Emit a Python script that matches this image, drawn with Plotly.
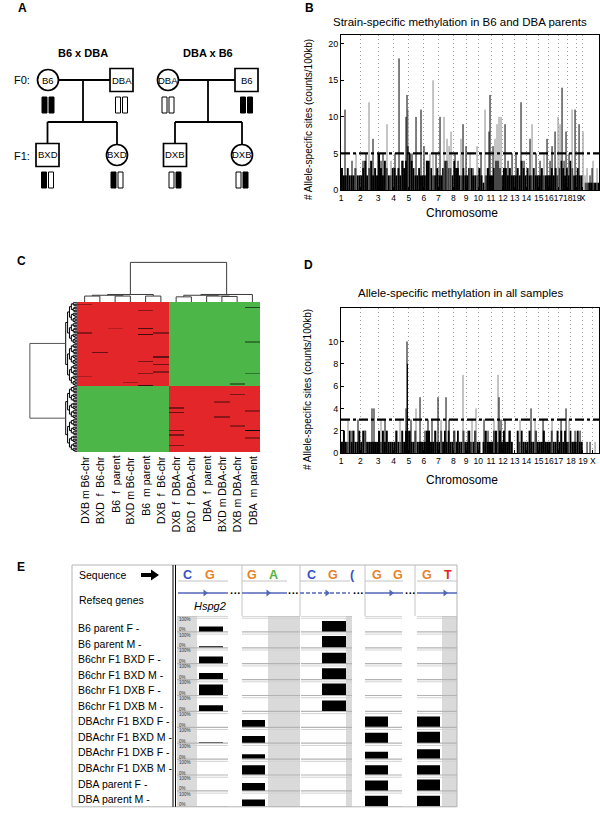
import plotly.graph_objects as go

W, H = 600, 813
FONT = "Liberation Sans, Arial, Helvetica, sans-serif"

# ====================== DATA ======================
chrom_names = ["1", "2", "3", "4", "5", "6", "7", "8", "9", "10",
               "11", "12", "13", "14", "15", "16", "17", "18", "19", "X"]
chrom_len_mb = [197.2, 181.7, 159.6, 155.6, 152.5, 149.5, 152.5, 131.7, 124.1, 130.0,
                121.8, 121.3, 120.3, 125.2, 103.5, 98.3, 95.3, 90.8, 61.3, 166.7]

# Panel B: dense background level of allele-specific sites per chromosome segment
b_fill = [
    [3, 2, 2, 3, 2, 2, 2, 3, 2, 2],
    [2, 3, 4, 2, 3, 4, 2, 3, 2],
    [5, 3, 2, 4, 3, 2, 2, 3],
    [3, 2, 3, 2, 4, 3, 4, 6],
    [5, 4, 3, 2, 2, 3, 2, 2],
    [2, 4, 4, 3, 2, 2, 3],
    [2, 2, 3, 4, 4, 3, 3, 2],
    [4, 3, 3, 2, 2, 3, 2],
    [2, 3, 3, 2, 2, 2],
    [3, 2, 1, 2, 3, 2],
    [2, 3, 4, 4, 3, 2],
    [3, 3, 2, 3, 2, 2],
    [2, 3, 2, 4, 3, 2],
    [3, 2, 2, 3, 2, 2],
    [2, 3, 2, 2, 2],
    [2, 3, 2, 3, 2],
    [3, 4, 3, 2, 3],
    [2, 4, 3, 2, 2],
    [3, 2, 2],
    [0, 1, 1, 1, 1, 1, 1, 1],
]
# Panel B: individual peaks (genome position in Mb, counts, tone k=black g=grey)
b_spike_mb = [40.9, 112.5, 153.5, 225.1, 255.8, 286.4, 327.4, 378.5, 409.2, 429.7,
              470.6, 511.5, 552.4, 593.4, 634.3, 665.0, 675.2, 685.4, 726.3, 767.3,
              818.4, 849.1, 879.8, 910.5, 941.2, 971.9, 1012.8, 1053.7, 1084.4, 1104.9,
              1125.3, 1166.2, 1196.9, 1227.6, 1248.1, 1278.8, 1319.7, 1350.4, 1391.3, 1432.2,
              1473.1, 1514.1, 1524.3, 1555.0, 1575.4, 1595.9, 1616.4, 1636.8, 1677.7, 1708.4,
              1749.4, 1790.3, 1841.4, 1872.1, 1933.5, 1954.0, 1994.9, 2035.8, 2076.7, 2107.4,
              2138.1, 2158.6, 2189.3, 2220.0, 2240.4, 2260.9, 2281.3, 2301.8, 2332.5, 2363.2,
              2393.9, 2434.8, 2475.7, 2496.2, 2516.6, 2547.3, 2567.8, 2578.0, 2618.9]
b_spike_h = [11, 4, 5, 4, 5, 12, 7, 5, 4, 5,
             9, 4, 5, 18, 4, 10, 13, 11, 5, 10,
             11, 6, 4, 5, 15, 5, 10, 10, 7, 6,
             8, 5, 4, 7, 9, 6, 5, 3, 6, 5,
             11, 8, 13, 6, 7, 9, 10, 10, 9, 4,
             5, 5, 12, 4, 7, 9, 5, 4, 5, 7,
             4, 6, 8, 10, 9, 14, 4, 8, 5, 11,
             11, 9, 8, 2, 3, 2, 3, 4, 3]
b_spike_tone = ["k", "k", "g", "k", "k", "g", "k", "k", "k", "k",
                "g", "g", "k", "k", "k", "k", "k", "g", "k", "k",
                "k", "k", "k", "g", "g", "k", "k", "g", "g", "g",
                "g", "k", "k", "g", "k", "k", "g", "k", "g", "k",
                "g", "k", "k", "k", "g", "g", "g", "g", "k", "k",
                "k", "k", "k", "k", "k", "g", "k", "k", "g", "k",
                "k", "k", "k", "g", "g", "k", "k", "k", "k", "g",
                "k", "k", "g", "g", "g", "k", "k", "g", "g"]
b_threshold = 5
b_yticks = [0, 5, 10, 15, 20]

# Panel D
d_fill = [
    [1, 2, 1, 1, 2, 1, 2, 1, 1, 2],
    [1, 2, 2, 1, 1, 1, 1, 1, 1],
    [2, 1, 2, 1, 2, 1, 1, 1],
    [1, 2, 1, 1, 2, 1, 2, 2],
    [2, 1, 1, 2, 1, 1, 1, 1],
    [1, 2, 2, 1, 1, 2, 1],
    [1, 2, 1, 2, 1, 2, 1, 1],
    [2, 1, 2, 1, 1, 2, 1],
    [1, 2, 1, 1, 2, 1],
    [1, 0, 1, 2, 1, 1],
    [1, 2, 2, 1, 2, 1],
    [2, 1, 1, 2, 1, 0],
    [0, 2, 1, 2, 1, 1],
    [1, 2, 1, 1, 2, 1],
    [1, 1, 2, 1, 1],
    [1, 2, 1, 1, 2],
    [1, 2, 1, 2, 1],
    [1, 2, 1, 1, 1],
    [2, 1, 1],
    [0, 0, 0, 0, 0, 0, 0, 0],
]
d_spike_mb = [30.7, 71.6, 112.5, 173.9, 245.5, 317.1, 337.6, 409.2, 450.1, 562.7,
              603.6, 665.0, 675.2, 680.0, 716.1, 767.3, 808.2, 859.3, 890.0, 930.9,
              992.3, 1023.0, 1074.2, 1104.9, 1166.2, 1248.1, 1299.2, 1340.2, 1381.1, 1462.9,
              1503.8, 1565.2, 1606.1, 1616.4, 1636.8, 1677.7, 1718.7, 1831.2, 1943.7, 1984.7,
              2066.5, 2158.6, 2250.6, 2301.8, 2332.5, 2393.9, 2445.0, 2516.6, 2547.3, 2598.5]
d_spike_h = [2, 3, 2, 3, 2, 4, 4, 3, 3, 2,
             3, 4, 10, 8, 3, 4, 5, 2, 3, 3,
             5, 3, 5, 3, 2, 7, 2, 3, 4, 3,
             2, 3, 7, 5, 3, 3, 2, 3, 4, 3,
             3, 3, 3, 4, 3, 2, 2, 1, 1, 1]
d_spike_tone = ["k", "g", "k", "k", "g", "k", "k", "g", "k", "k",
                "g", "k", "k", "k", "k", "g", "k", "k", "k", "k",
                "k", "g", "k", "k", "g", "g", "k", "g", "g", "k",
                "k", "g", "g", "k", "k", "k", "k", "g", "k", "g",
                "k", "g", "k", "k", "g", "k", "k", "k", "k", "g"]
d_tick_mb = [0, 197.2, 378.9, 538.5, 694.1, 846.6, 996.1, 1148.6, 1280.3, 1404.4,
             1534.4, 1656.2, 1777.5, 1897.8, 2023.0, 2126.5, 2224.8, 2352.0, 2475.0, 2577.0]
d_threshold = 3
d_yticks = [0, 2, 4, 6, 8, 10]

# Panel C heatmap
heat_cols = ["DXB m B6-chr", "BXD\u00a0\u00a0f\u00a0\u00a0B6-chr", "B6\u00a0\u00a0f\u00a0\u00a0parent",
             "BXD m B6-chr", "B6\u00a0\u00a0m parent", "DXB\u00a0\u00a0f\u00a0\u00a0B6-chr",
             "DXB\u00a0\u00a0f\u00a0\u00a0DBA-chr", "BXD\u00a0\u00a0f\u00a0\u00a0DBA-chr",
             "DBA\u00a0\u00a0f\u00a0\u00a0parent", "BXD m DBA-chr", "DXB m DBA-chr",
             "DBA\u00a0\u00a0m parent"]
heat_group_rows = [56, 44]
heat_group_pattern = [[1, 1, 1, 1, 1, 1, -1, -1, -1, -1, -1, -1],
                      [-1, -1, -1, -1, -1, -1, 1, 1, 1, 1, 1, 1]]
heat_exceptions = [(1, 0, 0.65), (5, 4, 0.6), (17, 4, 0.35), (17, 2, 0.8), (20, 0, 0.6),
                   (20, 5, 0.6), (21, 4, 0.3), (33, 1, 0.45), (36, 5, 0.45), (39, 4, 0.55),
                   (41, 5, 0.5), (46, 5, 0.6), (47, 4, 0.6), (49, 0, 0.75), (53, 3, 0.7),
                   (55, 4, 0.3), (3, 11, -0.4), (26, 11, -0.65), (47, 11, -0.65), (54, 10, -0.6),
                   (61, 10, 0.55), (66, 9, 0.65), (70, 6, 0.55), (72, 11, 0.65), (73, 6, 0.45),
                   (76, 9, 0.6), (82, 10, 0.65), (85, 11, -0.05), (85, 6, 0.5), (88, 6, 0.55),
                   (90, 11, 0.65), (95, 6, 0.55)]
# column dendrogram merges (left, right, height); nodes numbered from 12
col_merges = [(0, 1, 0.15), (2, 3, 0.15), (12, 13, 0.17), (4, 5, 0.15), (14, 15, 0.19),
              (6, 7, 0.13), (9, 10, 0.14), (8, 18, 0.15), (17, 19, 0.17), (20, 11, 0.19),
              (16, 21, 1.0)]
row_tree_heights = [0.24, 0.2, 0.16, 0.12, 0.08, 0.05, 0.025]
row_root_height = 1.0

# Panel E
e_rows = ["B6 parent F -", "B6 parent M -", "B6chr F1 BXD F -", "B6chr F1 BXD M -",
          "B6chr F1 DXB F -", "B6chr F1 DXB M -", "DBAchr F1 BXD F -", "DBAchr F1 BXD M -",
          "DBAchr F1 DXB F -", "DBAchr F1 DXB M -", "DBA parent F -", "DBA parent M -"]
e_meth_b1 = [40, 8, 54, 49, 86, 46, 0, 3, 0, 0, 0, 0]
e_meth_b2 = [0, 0, 0, 0, 0, 0, 55, 55, 35, 75, 60, 55]
e_meth_b3 = [86, 92, 86, 89, 95, 86, 0, 0, 0, 0, 0, 0]
e_meth_b4 = [0, 0, 0, 0, 0, 0, 84, 81, 57, 76, 81, 86]
e_meth_b5 = [0, 0, 0, 0, 0, 0, 84, 89, 76, 76, 89, 86]
e_seq = [["C", "G"], ["G", "A"], ["C", "G", "("], ["G", "G"], ["G", "T"]]
e_gene = "Hspg2"

# ====================== HELPERS ======================
def PX(px): return px / W
def PY(py): return 1 - py / H
def dom_x(a, b): return [a / W, b / W]
def dom_y(top, bottom): return [1 - bottom / H, 1 - top / H]

chrom_start = []
acc = 0.0
for L in chrom_len_mb:
    chrom_start.append(acc)
    acc += L
genome_len = acc

shapes, annots = [], []

def line(x0, y0, x1, y1, color="black", width=1.5, dash=None):
    ln = dict(color=color, width=width)
    if dash:
        ln["dash"] = dash
    shapes.append(dict(type="line", xref="paper", yref="paper",
                       x0=PX(x0), y0=PY(y0), x1=PX(x1), y1=PY(y1), line=ln, layer="above"))

def rect(x0, y0, x1, y1, fill="white", lc="black", lw=1.5):
    shapes.append(dict(type="rect", xref="paper", yref="paper",
                       x0=PX(x0), x1=PX(x1), y0=PY(y1), y1=PY(y0),
                       fillcolor=fill, line=dict(color=lc, width=lw), layer="above"))

def circle(cx, cy, r, fill="white", lc="black", lw=1.5):
    shapes.append(dict(type="circle", xref="paper", yref="paper",
                       x0=PX(cx - r), x1=PX(cx + r), y0=PY(cy + r), y1=PY(cy - r),
                       fillcolor=fill, line=dict(color=lc, width=lw), layer="above"))

def path(pts, fill):
    d = "M " + " L ".join(f"{PX(x):.5f},{PY(y):.5f}" for x, y in pts) + " Z"
    shapes.append(dict(type="path", xref="paper", yref="paper", path=d,
                       fillcolor=fill, line=dict(width=0), layer="above"))

def text(x, y, s, size=10, color="black", bold=False, italic=False,
         xanchor="center", yanchor="middle", angle=0):
    if bold:
        s = f"<b>{s}</b>"
    if italic:
        s = f"<i>{s}</i>"
    annots.append(dict(xref="paper", yref="paper", x=PX(x), y=PY(y), text=s,
                       showarrow=False, xanchor=xanchor, yanchor=yanchor, borderpad=0,
                       textangle=angle, font=dict(size=size, color=color, family=FONT)))

fig = go.Figure()

# ====================== PANELS B & D ======================
def add_manhattan(fill, spike_mb, spike_h, spike_tone, threshold, xa, ya):
    xs, ws, ys = [], [], []
    for start, L, levels in zip(chrom_start, chrom_len_mb, fill):
        w = L / len(levels)
        for i, v in enumerate(levels):
            xs.append(start + (i + 0.5) * w)
            ws.append(w)
            ys.append(v)
    fig.add_trace(go.Bar(x=xs, y=ys, width=ws, marker=dict(color="black", line=dict(width=0)),
                         xaxis=xa, yaxis=ya, hoverinfo="skip"))
    for tone, color in (("g", "#8a8a8a"), ("k", "black")):
        sx, sy = [], []
        for p, v, t in zip(spike_mb, spike_h, spike_tone):
            if t == tone:
                sx += [p, p, None]
                sy += [0, v, None]
        fig.add_trace(go.Scatter(x=sx, y=sy, mode="lines", line=dict(color=color, width=1),
                                 xaxis=xa, yaxis=ya, hoverinfo="skip"))
    fig.add_trace(go.Scatter(x=[0, genome_len], y=[threshold, threshold], mode="lines",
                             line=dict(color="black", width=2.3, dash="9px,3px,3px,3px"),
                             xaxis=xa, yaxis=ya, hoverinfo="skip"))

add_manhattan(b_fill, b_spike_mb, b_spike_h, b_spike_tone, b_threshold, "x", "y")
add_manhattan(d_fill, d_spike_mb, d_spike_h, d_spike_tone, d_threshold, "x2", "y2")

def chrom_axis(domain, tickvals, anchor):
    return dict(domain=domain, anchor=anchor, range=[0, genome_len], tickmode="array",
                tickvals=tickvals, ticktext=chrom_names, tickangle=0,
                showgrid=True, gridcolor="#a0a0a0", griddash="1px,3px", gridwidth=1,
                showline=True, linecolor="black", linewidth=1, mirror=True,
                ticks="inside", ticklen=3, tickcolor="black",
                tickfont=dict(size=8.5, family=FONT, color="black"), zeroline=False,
                fixedrange=True, automargin=False)

def count_axis(domain, top, tickvals, anchor):
    return dict(domain=domain, anchor=anchor, range=[0, top], tickmode="array", tickvals=tickvals,
                showgrid=False, showline=True, linecolor="black", linewidth=1, mirror=True,
                ticks="inside", ticklen=3, tickcolor="black",
                tickfont=dict(size=9, family=FONT, color="black"), zeroline=False,
                fixedrange=True, automargin=False)

# ====================== PANEL C ======================
z = []
for g, n in enumerate(heat_group_rows):
    for _ in range(n):
        z.append(list(heat_group_pattern[g]))
for r, c, v in heat_exceptions:
    z[r][c] = v
nrows = len(z)
fig.add_trace(go.Heatmap(z=z, x=list(range(12)), y=list(range(nrows)), zmin=-1, zmax=1,
                         colorscale=[[0, "#4cb649"], [0.5, "#000000"], [1, "#e2262a"]],
                         showscale=False, xaxis="x3", yaxis="y3", hoverinfo="skip"))

# column dendrogram
node_pos = {i: (float(i), 0.0) for i in range(12)}
cx, cy = [], []
nid = 12
for a, b, h in col_merges:
    xa_, ha = node_pos[a]
    xb_, hb = node_pos[b]
    cx += [xa_, xa_, xb_, xb_, None]
    cy += [ha, h, h, hb, None]
    node_pos[nid] = ((xa_ + xb_) / 2, h)
    nid += 1
fig.add_trace(go.Scatter(x=cx, y=cy, mode="lines", line=dict(color="#3a3a3a", width=1),
                         xaxis="x4", yaxis="y4", hoverinfo="skip"))

# row dendrogram
rx, ry = [], []
def build(lo, hi, depth):
    if hi - lo == 1:
        return (float(lo), 0.0)
    mid = (lo + hi) // 2
    pa = build(lo, mid, depth + 1)
    pb = build(mid, hi, depth + 1)
    h = row_tree_heights[min(depth, len(row_tree_heights) - 1)]
    rx.extend([pa[1], h, h, pb[1], None])
    ry.extend([pa[0], pa[0], pb[0], pb[0], None])
    return ((pa[0] + pb[0]) / 2, h)
tops = []
start = 0
for n in heat_group_rows:
    tops.append(build(start, start + n, 0))
    start += n
fig.add_trace(go.Scatter(x=rx, y=ry, mode="lines", line=dict(color="black", width=1),
                         xaxis="x5", yaxis="y5", hoverinfo="skip"))
fig.add_trace(go.Scatter(x=[tops[0][1], row_root_height, row_root_height, tops[1][1]],
                         y=[tops[0][0], tops[0][0], tops[1][0], tops[1][0]], mode="lines",
                         line=dict(color="#555555", width=1), xaxis="x5", yaxis="y5",
                         hoverinfo="skip"))

for i, lab in enumerate(heat_cols):
    annots.append(dict(xref="x3", yref="paper", x=i, y=PY(455), text=lab, showarrow=False,
                       textangle=-90, xanchor="center", yanchor="top", borderpad=0,
                       font=dict(size=10.5, family=FONT, color="black")))

# ====================== PANEL E ======================
E_TOP, E_BOTTOM, E_LEFT, E_RIGHT = 565, 806.8, 72, 457
E_TRACK_TOP = 616
block_span = [(177, 228), (242, 300), (301, 352), (365, 402), (417, 457)]
bar_span = [(199, 223), (242, 265), (322, 346), (365, 388), (417, 440)]
gray_span = [(177, 197), (268, 300), (346, 352), None, (442, 457)]
header_sep = [242, 300, 365, 415]
seq_x = [[187, 210], [252, 273], [311, 333, 352], [377, 398], [427, 448]]
gene_seg = [(178, 228), (242, 287), (300, 350), (365, 403), (417, 457)]
gene_dash = [False, False, True, False, False]
dots_x = [235, 293, 358, 410]
arrow_x = [207, 270, 329, 393, 447]
base_color = {"C": "#3553c4", "G": "#e5822b", "A": "#55b43c", "T": "#e12424", "(": "#3553c4"}
GENE_BLUE = "#5466b8"

e_blocks = [e_meth_b1, e_meth_b2, e_meth_b3, e_meth_b4, e_meth_b5]
ex, ey, ebase, ew = [], [], [], []
for (b0, b1), vals in zip(bar_span, e_blocks):
    for k, v in enumerate(vals):
        if v > 0:
            ex.append((b0 + b1) / 2)
            ew.append(b1 - b0)
            ebase.append(k + 0.97)
            ey.append(-0.77 * v / 100)
fig.add_trace(go.Bar(x=ex, y=ey, base=ebase, width=ew, marker=dict(color="black", line=dict(width=0)),
                     xaxis="x7", yaxis="y7", hoverinfo="skip"))

# track backgrounds and lines (on E axes)
for gs in gray_span:
    if gs:
        shapes.append(dict(type="rect", xref="x7", yref="y7", x0=gs[0], x1=gs[1], y0=0, y1=12,
                           fillcolor="#dadada", line=dict(width=0), layer="below"))
for (b0, b1) in block_span:
    for k in range(13):
        shapes.append(dict(type="line", xref="x7", yref="y7", x0=b0, x1=b1, y0=k, y1=k,
                           line=dict(color="#b3b3b3", width=1.2), layer="below"))
        if k < 12:
            shapes.append(dict(type="line", xref="x7", yref="y7", x0=b0, x1=b1, y0=k + 0.14, y1=k + 0.14,
                               line=dict(color="#d2d2d2", width=1), layer="below"))
for k in range(12):
    annots.append(dict(xref="x7", yref="y7", x=177.5, y=k + 0.2, text="100%", showarrow=False,
                       xanchor="left", yanchor="middle", borderpad=0,
                       font=dict(size=4.5, family=FONT, color="#333")))
    annots.append(dict(xref="x7", yref="y7", x=177.5, y=k + 0.88, text="0%", showarrow=False,
                       xanchor="left", yanchor="middle", borderpad=0,
                       font=dict(size=4.5, family=FONT, color="#333")))

# frame
line(E_LEFT, E_TOP, E_RIGHT, E_TOP, "#b5b5b5", 1)
line(E_LEFT, E_TOP, E_LEFT, E_BOTTOM, "#b5b5b5", 1)
line(E_RIGHT, E_TOP, E_RIGHT, E_BOTTOM, "#b5b5b5", 1)
line(E_LEFT, E_BOTTOM, E_RIGHT, E_BOTTOM, "#b5b5b5", 1)
line(173, E_TOP, 173, E_BOTTOM, "black", 1)
line(175.5, E_TOP, 175.5, E_BOTTOM, "black", 1)
for sx in header_sep:
    line(sx, E_TOP, sx, E_TRACK_TOP, "#c4c4c4", 1)
for (g0, g1), dash in zip(gene_seg, gene_dash):
    line(g0, 581, g1, 581, "#c2c2c2", 1)
    line(g0, 593, g1, 593, GENE_BLUE, 1.5, "4px,2px" if dash else None)
for ax_ in arrow_x:
    path([(ax_ - 3.5, 589.5), (ax_ + 1, 593), (ax_ - 3.5, 596.5)], GENE_BLUE)
for dx in dots_x:
    text(dx, 592.5, "···", size=11, bold=True)
for xs_, letters in zip(seq_x, e_seq):
    for x_, ch in zip(xs_, letters):
        text(x_, 575, ch, size=12.5, color=base_color[ch], bold=True)
text(78, 575, "Sequence", size=10.5, xanchor="left")
text(78, 600, "Refseq genes", size=10.5, xanchor="left")
path([(141, 573), (151, 573), (151, 569.5), (159, 575), (151, 580.5), (151, 577), (141, 577)], "black")
text(210, 606, e_gene, size=11, italic=True)
for k, lab in enumerate(e_rows):
    text(77, 628 + 15.55 * k, lab, size=10.5, xanchor="left")

# ====================== PANEL A ======================
pedigrees = [
    dict(title="B6 x DBA", mid=83,
         f0=[("circle", "B6", 48, "BB"), ("square", "DBA", 121.5, "WW")],
         f1=[("square", "BXD", 47.5, "BW"), ("circle", "BXD", 117, "BW")]),
    dict(title="DBA x B6", mid=208,
         f0=[("circle", "DBA", 168, "WW"), ("square", "B6", 246.5, "BB")],
         f1=[("square", "DXB", 175, "WB"), ("circle", "DXB", 242, "WB")]),
]
F0_Y, F1_Y, SIB_Y, HALF = 80, 155, 122, 11.5

def draw_ind(kind, label, cx, cy, chroms):
    if kind == "circle":
        circle(cx, cy, HALF - 1, lw=1.7)
    else:
        rect(cx - HALF, cy - HALF, cx + HALF, cy + HALF, lw=1.7)
    text(cx, cy, label, size=9.5)
    by0 = cy + 17
    for j, c in enumerate(chroms):
        x0 = cx - 6 + j * 7
        rect(x0, by0, x0 + 5, by0 + 16, fill="black" if c == "B" else "white", lw=1)

for ped in pedigrees:
    text(ped["mid"], 53, ped["title"], size=11, bold=True)
    a, b = ped["f0"]
    line(a[2] + HALF - 1, F0_Y, b[2] - HALF, F0_Y, width=1.8)
    line(ped["mid"], F0_Y, ped["mid"], SIB_Y, width=1.8)
    c1, c2 = ped["f1"]
    line(c1[2], SIB_Y, c2[2], SIB_Y, width=1.8)
    line(c1[2], SIB_Y, c1[2], F1_Y - HALF, width=1.8)
    line(c2[2], SIB_Y, c2[2], F1_Y - HALF + 1, width=1.8)
    for kind, lab, x_, chroms in ped["f0"]:
        draw_ind(kind, lab, x_, F0_Y, chroms)
    for kind, lab, x_, chroms in ped["f1"]:
        draw_ind(kind, lab, x_, F1_Y, chroms)
text(22, 80, "F0:", size=11)
text(22, 156, "F1:", size=11)

# ====================== TITLES / LETTERS ======================
text(22, 8, "A", size=12, bold=True)
text(309, 8, "B", size=12, bold=True)
text(21, 261, "C", size=12, bold=True)
text(308, 265, "D", size=12, bold=True)
text(21, 567, "E", size=12, bold=True)
text(460, 22, "Strain-specific methylation in B6 and DBA parents", size=11.5)
text(460, 293, "Allele-specific methylation in all samples", size=11.5)
text(462, 213, "Chromosome", size=12)
text(462, 480, "Chromosome", size=12)
text(308, 120, "# Allele-specific sites (counts/100kb)", size=10, angle=-90)
text(308, 390, "# Allele-specific sites (counts/100kb)", size=10, angle=-90)

hidden = dict(visible=False, fixedrange=True)
fig.update_layout(
    width=W, height=H, autosize=False,
    margin=dict(l=0, r=0, t=0, b=0, pad=0),
    paper_bgcolor="white", plot_bgcolor="white",
    showlegend=False, barmode="overlay",
    font=dict(family=FONT, color="black"),
    xaxis=chrom_axis(dom_x(341, 599), chrom_start, "y"),
    yaxis=count_axis(dom_y(35, 190), 21.2, b_yticks, "x"),
    xaxis2=chrom_axis(dom_x(341, 599), d_tick_mb, "y2"),
    yaxis2=count_axis(dom_y(308, 453), 13, d_yticks, "x2"),
    xaxis3=dict(hidden, anchor="y3", domain=dom_x(77, 260), range=[-0.5, 11.5]),
    yaxis3=dict(hidden, anchor="x3", domain=dom_y(302, 452), range=[nrows - 0.5, -0.5]),
    xaxis4=dict(hidden, anchor="y4", domain=dom_x(77, 260), range=[-0.5, 11.5]),
    yaxis4=dict(hidden, anchor="x4", domain=dom_y(260, 302), range=[0, 1.06]),
    xaxis5=dict(hidden, anchor="y5", domain=dom_x(28, 77), range=[1.04, 0]),
    yaxis5=dict(hidden, anchor="x5", domain=dom_y(302, 452), range=[nrows - 0.5, -0.5]),
    xaxis7=dict(hidden, anchor="y7", domain=dom_x(176, 457), range=[176, 457]),
    yaxis7=dict(hidden, anchor="x7", domain=dom_y(616, 806.8), range=[12, 0]),
    shapes=shapes, annotations=annots,
)
fig.write_html("out.html", config={"staticPlot": True},
               post_script="document.body.style.margin='0';document.body.style.padding='0';"
                           "document.documentElement.style.overflow='hidden';")
